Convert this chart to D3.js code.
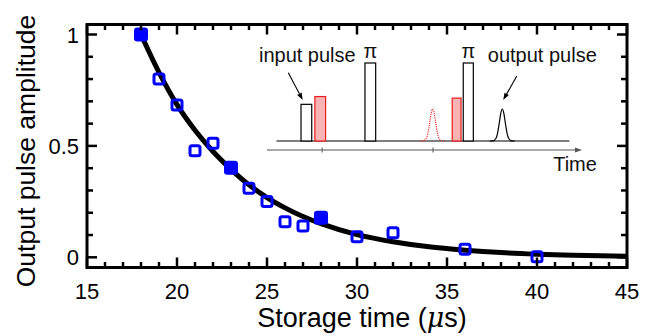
<!DOCTYPE html>
<html><head><meta charset="utf-8">
<script src="https://cdn.jsdelivr.net/npm/d3@7"></script>
<style>body{margin:0;background:#fff;} svg{display:block;} text{font-family:"Liberation Sans",Arial,sans-serif;}</style>
</head><body>
<svg id="c" width="655" height="336"></svg>
<script>
// ---- data ----
const storageTime = [18, 19, 20, 21, 22, 23, 24, 25, 26, 27, 28, 30, 32, 36, 40];
const amplitude   = [1.0, 0.80, 0.684, 0.478, 0.512, 0.402, 0.31, 0.25, 0.16, 0.14, 0.178, 0.092, 0.11, 0.036, 0.003];
const filledFlag  = [1, 0, 0, 0, 0, 1, 0, 0, 0, 0, 1, 0, 0, 0, 0];
const fitTime     = [18, 19, 20, 21, 22, 23, 24, 25, 26, 27, 28, 30, 32, 34, 36, 38, 40, 42, 45];
const fitValue    = [1.0, 0.83, 0.685, 0.57, 0.475, 0.395, 0.325, 0.268, 0.222, 0.183, 0.151, 0.102, 0.07, 0.047, 0.032, 0.021, 0.014, 0.009, 0.005];
const xTickLabels = [15, 20, 25, 30, 35, 40, 45];
const yTickLabels = [0, 0.5, 1];
// inset schematic (arbitrary time units, relative heights)
const rectPulseStart = [10.8, 15.2, 31.1, 58.8, 62.3];
const rectPulseEnd   = [14.2, 18.6, 34.5, 61.6, 65.5];
const rectPulseH     = [0.47, 0.57, 1.0, 0.55, 1.0];
const rectPulseKind  = ["input", "control", "pi", "control", "pi"];
const gaussCenter    = [52.6, 74.7];
const gaussKind      = ["echo", "output"];
const gaussPeak      = 0.41;
const shapeOffset    = [-4, -3, -2, -1.5, -1, -0.5, 0, 0.5, 1, 1.5, 2, 3, 4];
const shapeValue     = [0, 0.004, 0.085, 0.25, 0.54, 0.857, 1, 0.857, 0.54, 0.25, 0.085, 0.004, 0];
const insetTicks     = [17.5, 52.7];

const svg = d3.select("#c");
const x = d3.scaleLinear().domain([15, 45]).range([87, 627]);
const y = d3.scaleLinear().domain([0, 1]).range([257.3, 34.5]);
const pTop = 24.5, pBottom = 267.5, pLeft = 87, pRight = 627;

// clip
svg.append("defs").append("clipPath").attr("id","clip")
  .append("rect").attr("x",pLeft).attr("y",pTop).attr("width",pRight-pLeft).attr("height",pBottom-pTop);

// ---- inset ----
const ix = d3.scaleLinear().domain([0, 100]).range([267, 582]);
const iy = d3.scaleLinear().domain([0, 1]).range([141, 63]);
const inset = svg.append("g");
// time axis with arrow
inset.append("line").attr("x1", ix(0)).attr("x2", ix(100)-4).attr("y1", 150).attr("y2", 150)
  .attr("stroke","#555").attr("stroke-width",1);
inset.append("path").attr("d", `M${ix(100)},150 L${ix(100)-7},147.5 L${ix(100)-7},152.5 Z`).attr("fill","#555");
insetTicks.forEach(t => inset.append("line").attr("x1", ix(t)).attr("x2", ix(t)).attr("y1",147.5).attr("y2",152.5)
  .attr("stroke","#555").attr("stroke-width",1));
// baseline
inset.append("line").attr("x1", ix(3)).attr("x2", ix(96)).attr("y1", iy(0)).attr("y2", iy(0))
  .attr("stroke","#000").attr("stroke-width",1.2);
// gaussians
const gLine = d3.line().x(d=>d[0]).y(d=>d[1]).curve(d3.curveMonotoneX);
gaussCenter.forEach((c,i) => {
  const pts = shapeOffset.map((o,j) => [ix(c+o), iy(gaussPeak*shapeValue[j])]);
  inset.append("path").attr("d", gLine(pts)).attr("fill","none")
    .attr("stroke", gaussKind[i]==="echo" ? "#f03030" : "#000")
    .attr("stroke-width", 1.2)
    .attr("stroke-dasharray", gaussKind[i]==="echo" ? "1.2,1" : null);
});
// rectangular pulses
rectPulseStart.forEach((s,i) => {
  const k = rectPulseKind[i];
  inset.append("rect").attr("x", ix(s)).attr("y", iy(rectPulseH[i]))
    .attr("width", ix(rectPulseEnd[i]) - ix(s)).attr("height", iy(0) - iy(rectPulseH[i]))
    .attr("fill", k==="control" ? "#f8b4b4" : "#fff")
    .attr("stroke", k==="control" ? "#e81c1c" : "#000").attr("stroke-width", 1.2);
});
// labels
const lab = (t, ux, h, anchor) => inset.append("text").attr("x", ix(ux)).attr("y", iy(h))
  .attr("text-anchor", anchor).attr("font-size", 20).attr("fill","#111").text(t);
lab("input pulse", 12.8, 1.018, "middle");
lab("output pulse", 87.4, 1.018, "middle");
lab("π", 32.8, 1.07, "middle");
lab("π", 63.9, 1.07, "middle");
lab("Time", 97.8, -0.39, "middle");
// arrows
const arrow = (ux1,h1,ux2,h2) => {
  const x1=ix(ux1), y1=iy(h1), x2=ix(ux2), y2=iy(h2);
  const a = Math.atan2(y2-y1, x2-x1), L=7, W=2.5;
  const bx = x2 - L*Math.cos(a), by = y2 - L*Math.sin(a);
  inset.append("line").attr("x1",x1).attr("y1",y1).attr("x2",bx).attr("y2",by).attr("stroke","#000").attr("stroke-width",1.1);
  inset.append("path").attr("d", `M${x2},${y2} L${bx - W*Math.sin(a)},${by + W*Math.cos(a)} L${bx + W*Math.sin(a)},${by - W*Math.cos(a)} Z`).attr("fill","#000");
};
arrow(6.76, 0.876, 11.33, 0.526);
arrow(79.3, 0.833, 75.0, 0.526);

// ---- fit curve ----
const line = d3.line().x((d,i)=>x(fitTime[i])).y((d)=>y(d)).curve(d3.curveMonotoneX);
svg.append("path").attr("clip-path","url(#clip)").attr("d", line(fitValue))
  .attr("fill","none").attr("stroke","#000").attr("stroke-width",5);

// ---- markers ----
storageTime.forEach((t,i) => {
  const f = filledFlag[i];
  const s = f ? 11.5 : 10;
  svg.append("rect").attr("x", x(t)-s/2).attr("y", y(amplitude[i])-s/2).attr("width", s).attr("height", s)
    .attr("rx", 2).attr("fill", f ? "#0000ff" : "none").attr("stroke","#0000ff").attr("stroke-width", f ? 2.5 : 3);
});

// ---- frame & ticks ----
const axG = svg.append("g").attr("stroke","#000").attr("stroke-width",2.5);
for (let v = 15; v <= 45; v++) {
  const L = v % 5 === 0 ? 10 : 5.5;
  axG.append("line").attr("x1",x(v)).attr("x2",x(v)).attr("y1",pBottom).attr("y2",pBottom-L);
  axG.append("line").attr("x1",x(v)).attr("x2",x(v)).attr("y1",pTop).attr("y2",pTop+L);
}
for (let k = 0; k <= 10; k++) {
  const v = k/10;
  const L = k % 5 === 0 ? 10 : 6;
  axG.append("line").attr("x1",pLeft).attr("x2",pLeft+L).attr("y1",y(v)).attr("y2",y(v));
  axG.append("line").attr("x1",pRight).attr("x2",pRight-L).attr("y1",y(v)).attr("y2",y(v));
}
svg.append("rect").attr("x",pLeft).attr("y",pTop).attr("width",pRight-pLeft).attr("height",pBottom-pTop)
  .attr("fill","none").attr("stroke","#000").attr("stroke-width",3);

// tick labels
xTickLabels.forEach(v => svg.append("text").attr("x", x(v)).attr("y", 298.5).attr("text-anchor","middle")
  .attr("font-size",22).text(v));
yTickLabels.forEach(v => svg.append("text").attr("x", 79).attr("y", y(v)+8).attr("text-anchor","end")
  .attr("font-size",22).text(v));

// titles
const xt = svg.append("text").attr("x", 362).attr("y", 327).attr("text-anchor","middle").attr("font-size",27);
xt.append("tspan").text("Storage time (");
xt.append("tspan").attr("font-style","italic").attr("font-family","DejaVu Serif").text("μ");
xt.append("tspan").text("s)");
svg.append("text").attr("transform","translate(35,151) rotate(-90)").attr("text-anchor","middle")
  .attr("font-size",26.5).text("Output pulse amplitude");
</script>
</body></html>
